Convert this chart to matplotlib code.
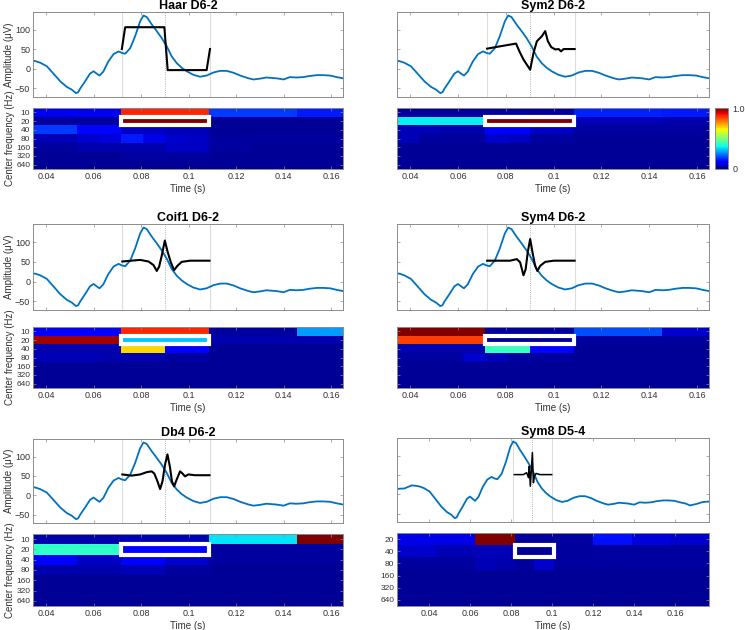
import numpy as np
import matplotlib.pyplot as plt
from matplotlib.patches import Rectangle
from matplotlib.cm import ScalarMappable
from matplotlib.colors import Normalize

plt.rcParams['font.family'] = ['Liberation Sans', 'DejaVu Sans']

W, H = 745, 630

# averaged evoked response (uV) shared by all panels
sig_t = [0.0245, 0.028, 0.0315, 0.0335, 0.0355, 0.0375, 0.0403, 0.0431, 0.046, 0.0487,
         0.0508, 0.0526, 0.0535, 0.0543, 0.0564, 0.0585, 0.060, 0.0613, 0.0625, 0.0641,
         0.0662, 0.0684, 0.0705, 0.0719, 0.0733, 0.0754, 0.0775, 0.0796, 0.081, 0.0824,
         0.0845, 0.0866, 0.0887, 0.0908, 0.0929, 0.095, 0.0971, 0.0992, 0.102, 0.1048,
         0.1076, 0.1105, 0.1133, 0.1161, 0.119, 0.1217, 0.1252, 0.1273, 0.130, 0.1327,
         0.1369, 0.140, 0.1426, 0.1454, 0.1482, 0.151, 0.154, 0.1567, 0.1596, 0.1624,
         0.165, 0.1673, 0.1705, 0.1735, 0.1765]
sig_v = [14, 15, 23, 22, 20, 16, 7, -12, -32, -46,
         -53, -62, -60, -51, -32, -12, -6, -12, -17, -7,
         19, 38, 45, 41, 39, 53, 84, 122, 137, 133,
         114, 97, 79, 58, 32, 15, 3, -6, -15, -20,
         -17, -9, -5, -5, -10, -17, -24, -27, -25, -22,
         -24, -27, -21, -22, -21, -18, -16, -16, -17, -21,
         -24, -29, -25, -20, -19]

# wavelets drawn over the analysis window
haar_t = [0.0719, 0.0733, 0.0898, 0.0912, 0.1076, 0.109]
haar_v = [51, 107, 107, -3, -3, 51]
sym2_t = [0.0722, 0.0776, 0.0843, 0.0857, 0.0874, 0.0888, 0.0902, 0.0916, 0.093, 0.0951,
          0.0965, 0.0976, 0.099, 0.1007, 0.1021, 0.1031, 0.1042, 0.1063, 0.1088]
sym2_v = [52, 58, 65, 45, 24, 11, -2, 41, 71, 84, 97, 71, 56, 50, 51, 45, 51, 51, 51]
coif1_t = [0.0721, 0.0796, 0.0831, 0.0852, 0.0866, 0.0876, 0.0887, 0.090, 0.0912, 0.0925,
           0.0939, 0.0953, 0.0971, 0.1006, 0.1088]
coif1_v = [51, 55, 51, 42, 27, 38, 66, 104, 75, 49, 29, 40, 50, 53, 53]
sym4_t = [0.0722, 0.0818, 0.0846, 0.086, 0.0874, 0.0883, 0.0892, 0.0902, 0.0913, 0.0923,
          0.0932, 0.0944, 0.0965, 0.100, 0.1088]
sym4_v = [53, 53, 57, 49, 16, 31, 75, 108, 70, 40, 27, 40, 50, 53, 53]
db4_t = [0.0721, 0.0761, 0.0796, 0.0824, 0.0845, 0.0856, 0.0869, 0.088, 0.089, 0.0901,
         0.0911, 0.0921, 0.093, 0.0939, 0.095, 0.0964, 0.0975, 0.0985, 0.0999, 0.1027, 0.1088]
db4_v = [54, 51, 54, 60, 62, 56, 36, 16, 36, 80, 106, 75, 36, 23, 41, 62, 56, 49, 54, 52, 52]
sym8_t = [0.0816, 0.086, 0.0876, 0.0885, 0.0889, 0.0894, 0.0899, 0.0904, 0.0909, 0.0914,
          0.0922, 0.0941, 0.0998]
sym8_v = [51, 51, 56, 43, 73, 21, 64, 108, 30, 47, 54, 51, 51]

# normalised coefficient energy, one list per centre frequency row
freq_d6 = ['10', '20', '40', '80', '160', '320', '640']
freq_d5 = ['20', '40', '80', '160', '320', '640']

haar_rows = [
    [0.10, 0.87, 0.18, 0.15],
    [0.03, 1.00, 0.02, 0.02],
    [0.18, 0.13, 0.06, 0.05, 0.02, 0.02, 0.02, 0.02],
    [0.05, 0.05, 0.07, 0.08, 0.15, 0.09, 0.07, 0.06, 0.03, 0.03, 0.03, 0.03, 0.03, 0.03, 0.03, 0.03],
    [0.03, 0.04, 0.04, 0.06, 0.03, 0.02, 0.02, 0.02],
    [0.02, 0.02, 0.03, 0.03, 0.02, 0.02, 0.02, 0.02],
    [0.02, 0.02, 0.02, 0.02, 0.02, 0.02, 0.02, 0.02],
]
sym2_rows = [
    [0.03, 0.03, 0.16, 0.15],
    [0.36, 1.00, 0.05, 0.04],
    [0.05, 0.04, 0.11, 0.06, 0.03, 0.03, 0.03, 0.03],
    [0.05, 0.03, 0.03, 0.03, 0.07, 0.06, 0.03, 0.03, 0.02, 0.02, 0.02, 0.02, 0.02, 0.02, 0.02, 0.02],
    [0.02, 0.02, 0.02, 0.02, 0.02, 0.02, 0.02, 0.02],
    [0.02, 0.02, 0.02, 0.02, 0.02, 0.02, 0.02, 0.02],
    [0.02, 0.02, 0.02, 0.02, 0.02, 0.02, 0.02, 0.02],
]
coif1_rows = [
    [0.12, 0.87, 0.03, 0.28],
    [0.97, 0.32, 0.04, 0.04],
    [0.04, 0.04, 0.68, 0.12, 0.02, 0.02, 0.02, 0.02],
    [0.05, 0.05, 0.05, 0.04, 0.04, 0.04, 0.03, 0.03, 0.02, 0.02, 0.02, 0.02, 0.02, 0.02, 0.02, 0.02],
    [0.02, 0.02, 0.02, 0.02, 0.02, 0.02, 0.02, 0.02],
    [0.02, 0.02, 0.02, 0.02, 0.02, 0.02, 0.02, 0.02],
    [0.02, 0.02, 0.02, 0.02, 0.02, 0.02, 0.02, 0.02],
]
sym4_rows = [
    [1.00, 0.03, 0.20, 0.07],
    [0.84, 0.02, 0.03, 0.03],
    [0.04, 0.04, 0.42, 0.13, 0.02, 0.02, 0.02, 0.02],
    [0.03, 0.03, 0.03, 0.07, 0.05, 0.03, 0.03, 0.03, 0.02, 0.02, 0.02, 0.02, 0.02, 0.02, 0.02, 0.02],
    [0.02, 0.02, 0.02, 0.02, 0.02, 0.02, 0.02, 0.02],
    [0.02, 0.02, 0.02, 0.02, 0.02, 0.02, 0.02, 0.02],
    [0.02, 0.02, 0.02, 0.02, 0.02, 0.02, 0.02, 0.02],
]
db4_rows = [
    [0.04, 0.05, 0.35, 1.00],
    [0.41, 0.13, 0.03, 0.03],
    [0.12, 0.06, 0.12, 0.07, 0.03, 0.03, 0.03, 0.03],
    [0.04, 0.04, 0.04, 0.04, 0.05, 0.05, 0.03, 0.03, 0.02, 0.02, 0.02, 0.02, 0.02, 0.02, 0.02, 0.02],
    [0.02, 0.02, 0.02, 0.02, 0.02, 0.02, 0.02, 0.02],
    [0.02, 0.02, 0.02, 0.02, 0.02, 0.02, 0.02, 0.02],
    [0.02, 0.02, 0.02, 0.02, 0.02, 0.02, 0.02, 0.02],
]
sym8_rows = [
    [0.09, 0.09, 1.00, 0.03, 0.03, 0.14, 0.08, 0.07],
    [0.07, 0.05, 0.05, 0.02, 0.03, 0.03, 0.03, 0.03],
    [0.03, 0.03, 0.03, 0.03, 0.05, 0.04, 0.03, 0.07, 0.03, 0.03, 0.03, 0.03, 0.03, 0.03, 0.03, 0.03],
    [0.02, 0.02, 0.02, 0.02, 0.02, 0.02, 0.02, 0.02],
    [0.02, 0.02, 0.02, 0.02, 0.02, 0.02, 0.02, 0.02],
    [0.02, 0.02, 0.02, 0.02, 0.02, 0.02, 0.02, 0.02],
]

x_ticks = [0.04, 0.06, 0.08, 0.1, 0.12, 0.14, 0.16]
x_ticklabels = ['0.04', '0.06', '0.08', '0.1', '0.12', '0.14', '0.16']


def fpos(x0, y0, x1, y1):
    """ pixel box -> figure fraction """
    return [x0 / W, 1 - y1 / H, (x1 - x0) / W, (y1 - y0) / H]


def style(ax, size=6.5):
    for s in ax.spines.values():
        s.set_color('#8c8c8c')
        s.set_linewidth(0.7)
    ax.tick_params(direction='in', top=True, right=True, length=2.5, width=0.5,
                   colors='#8c8c8c', labelcolor='#333333', labelsize=size, pad=2)


def draw_signal(ax, wt, wv, win, title, xlim, left, lw=1.5):
    ax.axvline(win[0], color='#dcdcdc', lw=0.8)
    ax.axvline(win[1], color='#dcdcdc', lw=0.8)
    ax.axvline(0.09, color='#9a9a9a', lw=0.6, ls=':')
    ax.plot(sig_t, sig_v, color='#0072BD', lw=1.3)
    ax.plot(wt, wv, color='black', lw=lw)
    ax.set_xlim(xlim)
    ax.set_ylim(-72, 146)
    ax.set_xticks(x_ticks)
    ax.set_xticklabels([])
    ax.set_yticks([-50, 0, 50, 100])
    if left:
        ax.set_ylabel('Amplitude (μV)', fontsize=7, color='#333333', labelpad=1)
    else:
        ax.set_yticklabels([])
    ax.set_title(title, fontsize=9, fontweight='bold', pad=1.5)
    style(ax)


def draw_heat(ax, rows, t0, span, box_row, box_win, labels, xlim, ylab, show_labels):
    for i, vals in enumerate(rows):
        edges = np.linspace(t0, t0 + span, len(vals) + 1)
        ax.pcolormesh(edges, [i - 0.5, i + 0.5], np.array([vals]), cmap='jet', vmin=0, vmax=1)
    ax.add_patch(Rectangle((box_win[0], box_row - 0.5), box_win[1] - box_win[0], 1,
                           fill=False, ec='white', lw=3, zorder=5, clip_on=False))
    ax.set_xlim(xlim)
    ax.set_ylim(len(rows) - 0.5, -0.5)
    ax.set_yticks(range(len(rows)))
    if show_labels:
        ax.set_yticklabels(labels)
    else:
        ax.set_yticklabels([])
    if ylab:
        ax.set_ylabel('Center frequency (Hz)', fontsize=7, color='#333333', labelpad=1)
    ax.set_xticks(x_ticks)
    ax.set_xticklabels(x_ticklabels)
    ax.set_xlabel('Time (s)', fontsize=7, color='#333333', labelpad=2)
    style(ax)
    ax.tick_params(axis='y', labelsize=6)


fig = plt.figure(figsize=(W / 100, H / 100), dpi=100)

xl_d6 = (0.0345, 0.165)
xl_d5 = (0.0244, 0.1765)
win_d6 = (0.0715, 0.1085)
win_d5 = (0.0817, 0.1008)

panels = [
    ('Haar D6-2', haar_t, haar_v, haar_rows, (33, 343), (12, 97), (108, 169), True),
    ('Sym2 D6-2', sym2_t, sym2_v, sym2_rows, (397, 709), (12, 97), (108, 169), False),
    ('Coif1 D6-2', coif1_t, coif1_v, coif1_rows, (33, 343), (224, 310), (327, 388), True),
    ('Sym4 D6-2', sym4_t, sym4_v, sym4_rows, (397, 709), (224, 310), (327, 388), False),
    ('Db4 D6-2', db4_t, db4_v, db4_rows, (33, 343), (439, 523), (534, 606), True),
]

for title, wt, wv, rows, cx, sy, hy, left in panels:
    ax1 = fig.add_axes(fpos(cx[0], sy[0], cx[1], sy[1]))
    draw_signal(ax1, wt, wv, (0.072, 0.109), title, xl_d6, left)
    ax2 = fig.add_axes(fpos(cx[0], hy[0], cx[1], hy[1]))
    draw_heat(ax2, rows, 0.0345, 0.148, 1, win_d6, freq_d6, xl_d6, left, left)

# Sym8 uses a different level range and a shorter window
ax1 = fig.add_axes(fpos(397, 438, 709, 522))
draw_signal(ax1, sym8_t, sym8_v, (0.081, 0.1), 'Sym8 D5-4', xl_d5, False, lw=1.1)
ax2 = fig.add_axes(fpos(397, 533, 709, 606))
draw_heat(ax2, sym8_rows, 0.0244, 0.1528, 1, win_d5, freq_d5, xl_d5, False, True)

# colorbar next to Sym2
cax = fig.add_axes(fpos(715, 108, 728, 169))
cb = fig.colorbar(ScalarMappable(norm=Normalize(0, 1), cmap='jet'), cax=cax, ticks=[0, 1])
cb.set_ticklabels(['0', '1.0'])
cb.outline.set_edgecolor('#8c8c8c')
cb.outline.set_linewidth(0.7)
cax.tick_params(direction='in', length=0, labelsize=6.5, labelcolor='#333333', pad=3)

fig.savefig('out.png', dpi=100)
